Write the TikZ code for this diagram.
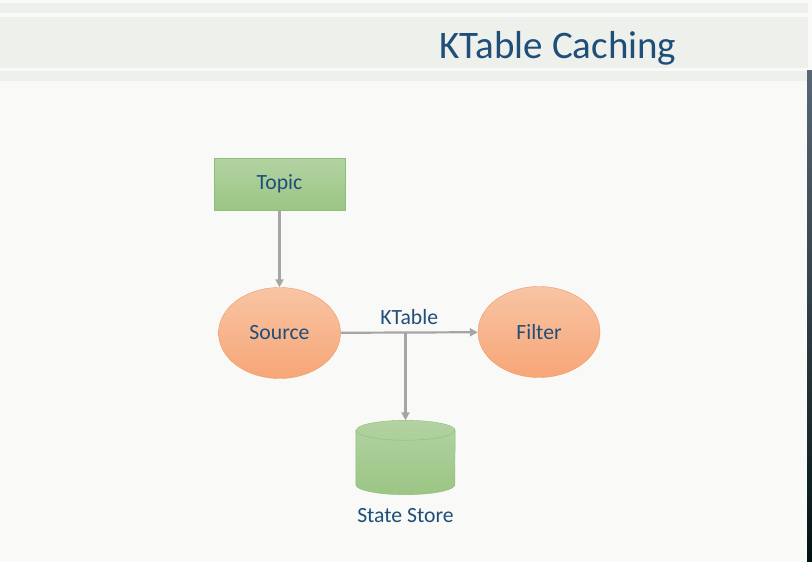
\documentclass[tikz,border=0pt]{standalone}
\usepackage{fontspec}
\setmainfont{Carlito}
\usepackage{xcolor}
\usetikzlibrary{arrows.meta,positioning,calc,shapes.geometric}

\definecolor{slidebg}{HTML}{F9F9F7}
\definecolor{bandgray}{HTML}{EEF0EC}
\definecolor{titleblue}{HTML}{1F4E79}
\definecolor{linkgray}{HTML}{A5A5A5}
\definecolor{greentop}{HTML}{B3D3A2}
\definecolor{greenbot}{HTML}{9BC585}
\definecolor{greenedge}{HTML}{8CBF74}
\definecolor{orangetop}{HTML}{F8C4A4}
\definecolor{orangebot}{HTML}{F7A677}
\definecolor{orangeedge}{HTML}{F09A68}

\begin{document}
\begin{tikzpicture}[x=1pt,y=-1pt,>={Triangle[length=8pt,width=8pt]},
  txtlabel/.style={text=titleblue,font=\fontsize{21.7}{25}\selectfont},
  topicbox/.style={rectangle,draw=greenedge,top color=greentop,bottom color=greenbot,
    minimum width=131pt,minimum height=52pt,txtlabel},
  procnode/.style={ellipse,draw=orangeedge,top color=orangetop,bottom color=orangebot,
    minimum width=122pt,minimum height=91pt,txtlabel},
  link/.style={draw=linkgray,line width=2.2pt}]
  % slide background and header bands
  \fill[slidebg] (0,0) rectangle (812,562);
  \useasboundingbox (0,0) rectangle (812,562);
  \fill[bandgray] (0,3) rectangle (808,13);
  \fill[bandgray] (0,17) rectangle (808,68);
  \fill[bandgray] (0,71) rectangle (808,81);
  \shade[top color=black!50!titleblue!70,bottom color=black!85!teal] (807,70) rectangle (812,562);
  \node[text=titleblue,font=\fontsize{39}{44}\selectfont] (title) at (558,48) {KTable Caching};

  % nodes
  \node[topicbox] (topic) at (279.5,184) {Topic};
  \node[procnode] (source) at (279.5,333) {Source};
  \node[procnode] (filter) at (539,332) {Filter};
  \node[minimum width=99pt,minimum height=74pt,inner sep=0pt] (store) at (405.5,457.5) {};
  \node[txtlabel,below=10pt of store] (storetext) {State Store};

  % state store cylinder
  \draw[greenedge,top color=greentop,bottom color=greenbot]
    (store.north west) ++(0,10) -- ($(store.south west)+(0,-10)$)
    arc[start angle=180,end angle=360,x radius=49.5pt,y radius=10pt]
    -- ($(store.north east)+(0,10)$)
    arc[start angle=0,end angle=180,x radius=49.5pt,y radius=10pt] -- cycle;
  \draw[greenedge] ($(store.north west)+(0,10)$)
    arc[start angle=180,end angle=360,x radius=49.5pt,y radius=10pt];

  % connectors
  \draw[link,->] (topic) -- (source);
  \draw[link,->] (source) -- node[txtlabel,above=3pt] (ktable) {KTable} (filter);
  \coordinate (fork) at (store.north |- source.east);
  \draw[link,->] (fork) -- (store.north);
\end{tikzpicture}
\end{document}
